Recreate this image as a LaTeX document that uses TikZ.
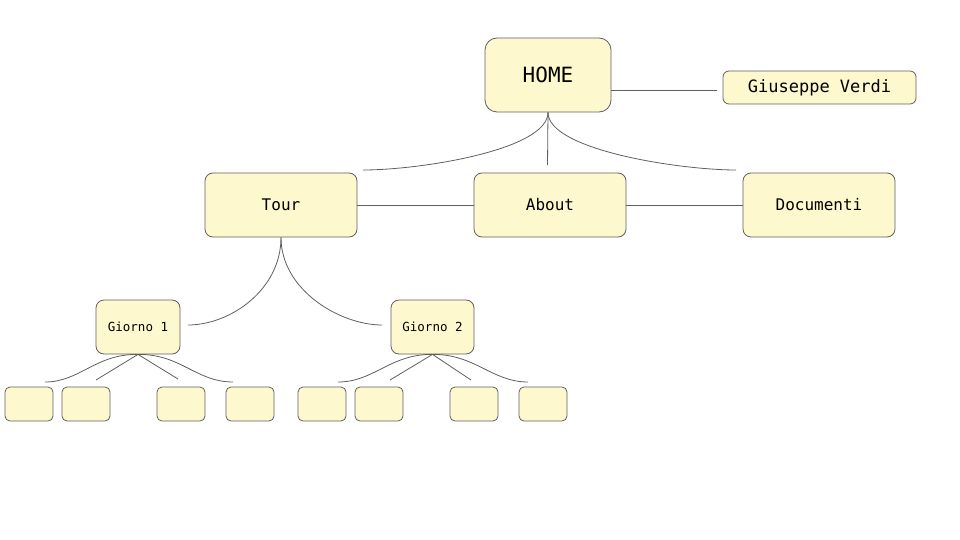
\documentclass[tikz,border=0pt]{standalone}
\usepackage{fontspec}
\setmainfont{DejaVu Sans Mono}
\definecolor{boxfill}{HTML}{FEF8CE}
\definecolor{edge}{HTML}{5F5F5F}
\begin{document}
\begin{tikzpicture}[x=1pt,y=-1pt,
  box/.style={draw=edge,fill=boxfill,line width=0.8pt,inner sep=0pt,rounded corners=8pt,align=center},
  leaf/.style={box,minimum width=48pt,minimum height=34pt,rounded corners=5pt},
  conn/.style={draw=edge,line width=0.8pt}]
\useasboundingbox (0,0) rectangle (960,540);
\node[box,minimum width=126pt,minimum height=74pt,rounded corners=12pt,font=\fontsize{21}{25}\selectfont] (home) at (548,75) {HOME};
\node[box,minimum width=193pt,minimum height=33pt,rounded corners=6pt,font=\fontsize{17}{20}\selectfont] (gv) at (819.5,87.5) {Giuseppe Verdi};
\node[box,minimum width=152pt,minimum height=64pt,font=\fontsize{16}{19}\selectfont] (tour) at (281,205) {Tour};
\node[box,minimum width=152pt,minimum height=64pt,font=\fontsize{16}{19}\selectfont] (about) at (550,205) {About};
\node[box,minimum width=152pt,minimum height=64pt,font=\fontsize{16}{19}\selectfont] (doc) at (819,205) {Documenti};
\node[box,minimum width=84pt,minimum height=54pt,font=\fontsize{12.5}{15}\selectfont] (g1) at (138,327) {Giorno 1};
\node[box,minimum width=83pt,minimum height=54pt,font=\fontsize{12.5}{15}\selectfont] (g2) at (432.5,327) {Giorno 2};
\node[leaf] (l1) at (29,404) {};
\node[leaf] (l2) at (86,404) {};
\node[leaf] (l3) at (181,404) {};
\node[leaf] (l4) at (250,404) {};
\node[leaf] (l5) at (322,404) {};
\node[leaf] (l6) at (379,404) {};
\node[leaf] (l7) at (474,404) {};
\node[leaf] (l8) at (543,404) {};
% free ends
\coordinate (gvend) at (717,90);
\coordinate (hl) at (363,170);
\coordinate (hm) at (547.5,165);
\coordinate (hr) at (736,170);
\coordinate (tl) at (188,325);
\coordinate (tr) at (382,325);
\coordinate (a1) at (45,382);
\coordinate (b1) at (96,380);
\coordinate (c1) at (178,379);
\coordinate (d1) at (233,382);
\coordinate (a2) at (338,382);
\coordinate (b2) at (390,380);
\coordinate (c2) at (471,380);
\coordinate (d2) at (528,382);
% connectors
\draw[conn] (home.east |- gvend) -- (gvend);
\draw[conn] (home.south) .. controls (548,150) and (420,170) .. (hl);
\draw[conn] (home.south) -- (hm);
\draw[conn] (home.south) .. controls (548,150) and (680,170) .. (hr);
\draw[conn] (tour.east) -- (about.west);
\draw[conn] (about.east) -- (doc.west);
\draw[conn] (tour.south) .. controls (281,290) and (230,325) .. (tl);
\draw[conn] (tour.south) .. controls (281,290) and (340,325) .. (tr);
\draw[conn] (g1.south) .. controls (95,354) and (80,382) .. (a1);
\draw[conn] (g1.south) -- (b1);
\draw[conn] (g1.south) -- (c1);
\draw[conn] (g1.south) .. controls (181,354) and (196,382) .. (d1);
\draw[conn] (g2.south) .. controls (390,354) and (374,382) .. (a2);
\draw[conn] (g2.south) -- (b2);
\draw[conn] (g2.south) -- (c2);
\draw[conn] (g2.south) .. controls (475,354) and (492,382) .. (d2);
\end{tikzpicture}
\end{document}
